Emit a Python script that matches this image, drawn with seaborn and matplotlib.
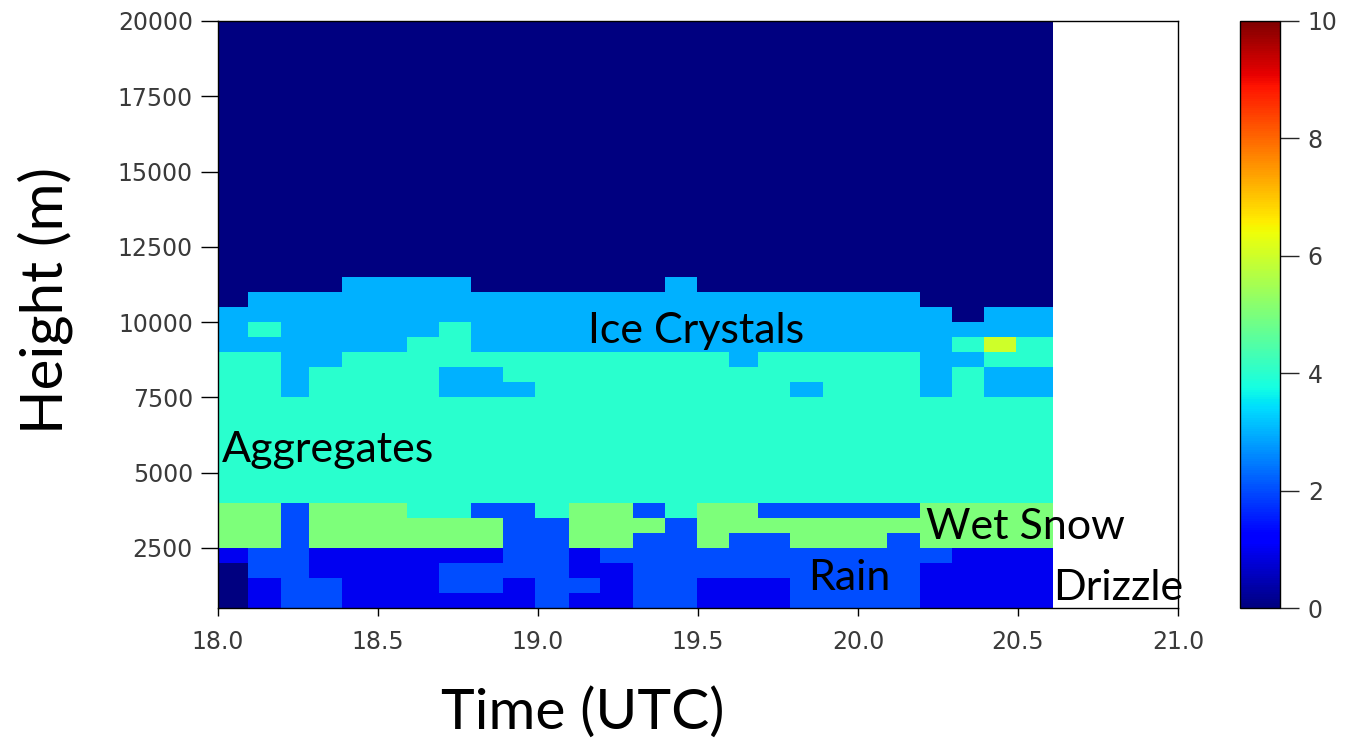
import numpy as np
import matplotlib
matplotlib.use("Agg")
import matplotlib.pyplot as plt
import seaborn as sns

# ---- data ----
time_edges = [18.000, 18.095, 18.197, 18.285, 18.389, 18.490, 18.590, 18.691,
              18.791, 18.892, 18.992, 19.096, 19.195, 19.296, 19.396, 19.497,
              19.598, 19.688, 19.789, 19.890, 19.991, 20.092, 20.193, 20.295,
              20.394, 20.495, 20.608]
height_edges = [500, 1000, 1500, 2000, 2500, 3000, 3500, 4000, 4500, 5000,
                5500, 6000, 6500, 7000, 7500, 8000, 8500, 9000, 9500, 10000,
                10500, 11000, 11500, 20000]
# hydrometeor class per cell, one string per height row (bottom -> top)
class_rows = [
    "01221111112112211122221111",  # 500-1000
    "01221112212212211122221111",  # 1000-1500
    "02211112222112222222221111",  # 1500-2000
    "12211111122122222222222111",  # 2000-2500
    "55255555522552252255525555",  # 2500-3000
    "55255555522555255555555555",  # 3000-3500
    "55255544224552455222225555",  # 3500-4000
    "44444444444444444444444444",  # 4000-4500
    "44444444444444444444444444",  # 4500-5000
    "44444444444444444444444444",  # 5000-5500
    "44444444444444444444444444",  # 5500-6000
    "44444444444444444444444444",  # 6000-6500
    "44444444444444444444444444",  # 6500-7000
    "44444444444444444444444444",  # 7000-7500
    "44344443334444444434443433",  # 7500-8000
    "44344443344444444444443433",  # 8000-8500
    "44334444444444443444443344",  # 8500-9000
    "33333344333333333333333464",  # 9000-9500
    "34333334333333333333333333",  # 9500-10000
    "33333333333333333333333033",  # 10000-10500
    "03333333333333333333330000",  # 10500-11000
    "00003333000000300000000000",  # 11000-11500
    "00000000000000000000000000",  # 11500-20000
]
x_ticks = [18.0, 18.5, 19.0, 19.5, 20.0, 20.5, 21.0]
y_ticks = [2500, 5000, 7500, 10000, 12500, 15000, 17500, 20000]
cbar_ticks = [0, 2, 4, 6, 8, 10]
annotations = [("Ice Crystals", 19.155, 9700), ("Aggregates", 18.012, 5750),
               ("Wet Snow", 20.211, 3200), ("Rain", 19.845, 1500),
               ("Drizzle", 20.609, 1170)]

# ---- plot ----
sns.set_style("ticks")
plt.rcParams['font.family'] = ['DejaVu Sans']

grid = np.array([[int(ch) for ch in row] for row in class_rows], dtype=float)
cmap = matplotlib.colormaps["jet"]

W, H = 1368, 746
fig = plt.figure(figsize=(W / 100, H / 100), dpi=100)
fig.patch.set_facecolor("white")
ax = fig.add_axes([218 / W, 1 - 608 / H, 960 / W, 587 / H])
mesh = ax.pcolormesh(time_edges, height_edges, grid, cmap=cmap, vmin=0, vmax=10,
                     shading="flat")
ax.set_xlim(18.0, 21.0)
ax.set_ylim(500, 20000)
ax.set_xticks(x_ticks)
ax.set_xticklabels([f"{v:.1f}" for v in x_ticks])
ax.set_yticks(y_ticks)
ax.set_yticklabels([str(v) for v in y_ticks])
tick_col = "#3a3a3a"
ax.tick_params(axis="y", labelsize=17, colors="black", labelcolor=tick_col,
               length=12, width=1, pad=6)
ax.tick_params(axis="x", labelsize=17, colors="black", labelcolor=tick_col,
               length=6, width=1, pad=10)
for s in ax.spines.values():
    s.set_color("black")
    s.set_linewidth(1.0)

ann_font = "Lato"
for txt, xv, yv in annotations:
    ax.text(xv, yv, txt, fontsize=31, family=ann_font, color="black",
            ha="left", va="center")

cax = fig.add_axes([1240 / W, 1 - 608 / H, 40 / W, 587 / H])
cb = fig.colorbar(mesh, cax=cax, ticks=cbar_ticks)
cb.ax.tick_params(labelsize=17, labelcolor=tick_col, length=14, width=1, pad=6)
cb.outline.set_edgecolor("black")
cb.outline.set_linewidth(1.0)

fig.text(583 / W, 1 - 713 / H, "Time (UTC)", fontsize=41, family=ann_font,
         ha="center", va="center", color="black")
fig.text(45 / W, 1 - 300 / H, "Height (m)", fontsize=42, family=ann_font,
         rotation=90, ha="center", va="center", color="black")

fig.savefig("out.png", dpi=100, facecolor="white")
